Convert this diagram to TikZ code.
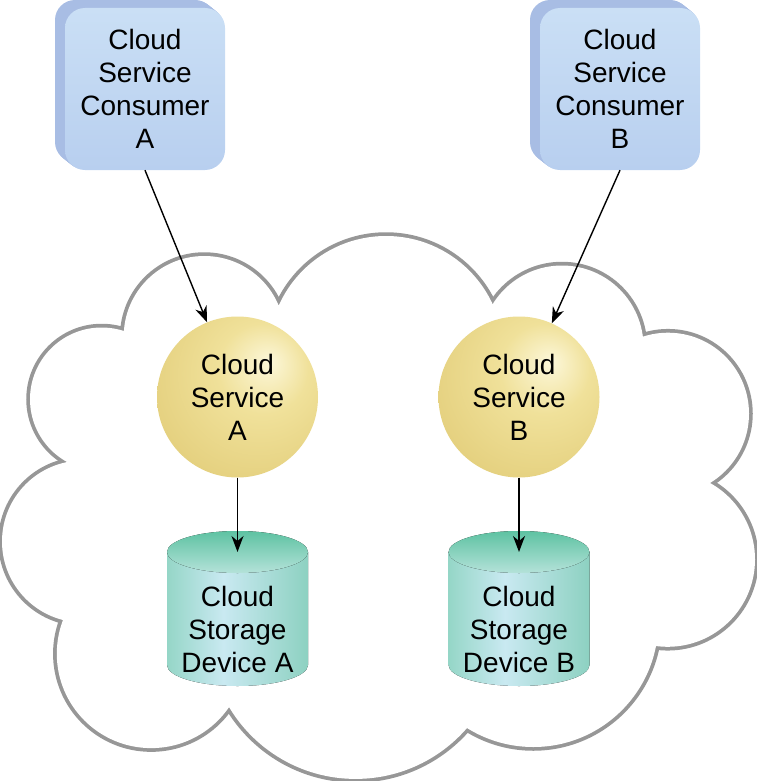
\documentclass[tikz,border=0pt]{standalone}
\usepackage{fontspec}
\setmainfont{Liberation Sans}
\usetikzlibrary{arrows.meta}
\definecolor{cloudgray}{HTML}{979797}
\definecolor{consFront}{HTML}{CADFF5}
\definecolor{consFrontB}{HTML}{B8CFEF}
\definecolor{consBack}{HTML}{A8BDE4}
\definecolor{svcHi}{HTML}{FCF7D9}
\definecolor{svcMid}{HTML}{F0E19A}
\definecolor{svcLo}{HTML}{E3CE7B}
\definecolor{cylL}{HTML}{95D6C7}
\definecolor{cylM}{HTML}{C9E9F1}
\definecolor{cylR}{HTML}{8DD1C1}
\definecolor{cylTopA}{HTML}{5EC2A2}
\definecolor{cylTopB}{HTML}{B4E2D9}
\pgfdeclareradialshading{svcball}{\pgfpoint{10bp}{11bp}}{color(0bp)=(svcHi); color(14bp)=(svcMid); color(36bp)=(svcLo); color(70bp)=(svcLo)}
\pgfdeclarehorizontalshading{cylbody}{100bp}{color(0bp)=(cylL); color(25bp)=(cylL); color(45bp)=(cylM); color(75bp)=(cylR); color(100bp)=(cylR)}
\begin{document}
\begin{tikzpicture}[x=1pt,y=-1pt,
  lbl/.style={font=\fontsize{28}{33}\selectfont, align=center, text=black},
  consumerbox/.style={lbl, rounded corners=20pt, minimum width=160pt, minimum height=162pt, inner sep=0pt, top color=consFront, bottom color=consFrontB},
  svcnode/.style={lbl, circle, minimum size=161pt, inner sep=0pt, shading=svcball},
  arr/.style={line width=1.4pt, -{Stealth[length=16pt,width=12pt,inset=5pt]}},
  cloudline/.style={draw=cloudgray, line width=7.5pt},
  cylbody/.style={shading=cylbody},
  cyltop/.style={top color=cylTopA, bottom color=cylTopB},
  consback/.style={fill=consBack, rounded corners=20pt}
]
\useasboundingbox (0,0) rectangle (756,781);

% cloud outline: union of circles
\foreach \cx/\cy/\r in {386/353.5/117.5, 562/347/81.5, 668/413.7/81, 667.6/559.4/87.4, 533.3/622/125, 355.6/631.6/147.3, 151.2/653.7/94.4, 83/541.5/81, 101.7/399.2/71.7, 204.3/336.6/80.6}
  \draw[cloudline] (\cx,\cy) circle[radius=\r pt];
\foreach \cx/\cy/\r in {386/353.5/117.5, 562/347/81.5, 668/413.7/81, 667.6/559.4/87.4, 533.3/622/125, 355.6/631.6/147.3, 151.2/653.7/94.4, 83/541.5/81, 101.7/399.2/71.7, 204.3/336.6/80.6}
  \fill[white] (\cx,\cy) circle[radius=\r pt];
\fill[white] (279,305) -- (492,304) -- (643,337) -- (710,483) -- (656,646) -- (467,728) -- (229,707) -- (63,620) -- (67,462) -- (124,331) -- cycle;

% consumers
\foreach \k in {10,9,...,1} {
  \fill[consback] (65-\k, 8-0.8*\k) rectangle (225-\k, 170-0.8*\k);
  \fill[consback] (540-\k, 8-0.8*\k) rectangle (700-\k, 170-0.8*\k);
}
\node[consumerbox] (ca) at (145,89) {Cloud\\Service\\Consumer\\A};
\node[consumerbox] (cb) at (620,89) {Cloud\\Service\\Consumer\\B};

% services
\node[svcnode] (sa) at (237.5,397) {Cloud\\Service\\A};
\node[svcnode] (sb) at (519,397) {Cloud\\Service\\B};

% storage devices
\fill[cylbody] (167,552) -- (167,665) arc[start angle=180, end angle=360, x radius=70.5pt, y radius=21pt] -- (308,552) -- cycle;
\fill[cyltop] (237.5,552) ellipse[x radius=70.5pt, y radius=21pt];
\coordinate (ta) at (237.5,552);
\node[lbl] (da) at (237.5,629) {Cloud\\Storage\\Device A};

\fill[cylbody] (448.5,552) -- (448.5,665) arc[start angle=180, end angle=360, x radius=70.5pt, y radius=21pt] -- (589.5,552) -- cycle;
\fill[cyltop] (519,552) ellipse[x radius=70.5pt, y radius=21pt];
\coordinate (tb) at (519,552);
\node[lbl] (db) at (519,629) {Cloud\\Storage\\Device B};

% connectors
\draw[arr] (ca.south) -- (sa);
\draw[arr] (cb.south) -- (sb);
\draw[arr] (sa) -- (ta);
\draw[arr] (sb) -- (tb);
\end{tikzpicture}
\end{document}
